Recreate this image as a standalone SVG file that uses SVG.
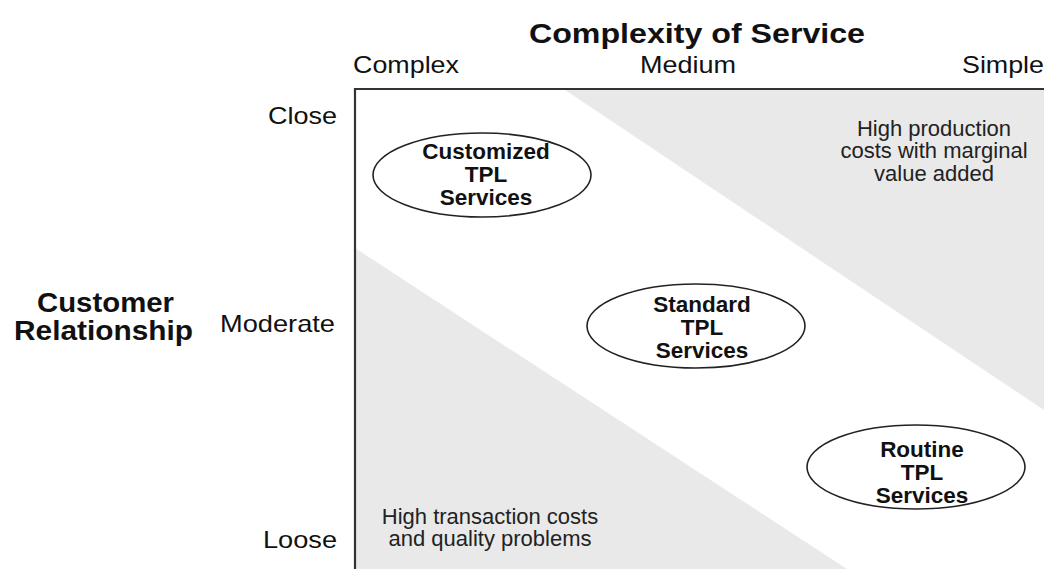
<svg xmlns="http://www.w3.org/2000/svg" width="1044" height="569" viewBox="0 0 1044 569">
<style>
.lbl{font-family:"Liberation Sans",Arial,sans-serif;font-size:24px;fill:#111}
.ttl{font-family:"Liberation Sans",Arial,sans-serif;font-size:27px;font-weight:bold;fill:#111}
.nd{font-family:"Liberation Sans",Arial,sans-serif;font-size:22.5px;font-weight:bold;fill:#111;text-anchor:middle}
.note{font-family:"Liberation Sans",Arial,sans-serif;font-size:22px;fill:#222;text-anchor:middle}
.ell{fill:#fff;stroke:#222;stroke-width:1.6}
.zone{fill:#e9e9e9}
</style>
<rect width="1044" height="569" fill="#fff"/>
<g id="zones">
<polygon class="zone" points="565,90 1044,90 1044,410"/>
<polygon class="zone" points="355,248 847,569 355,569"/>
</g>
<g id="frame">
<path d="M355,569 V89 H1044" fill="none" stroke="#333" stroke-width="2.2"/>
</g>
<g id="axis-labels">
<text class="ttl" x="697" y="43" text-anchor="middle" textLength="336" lengthAdjust="spacingAndGlyphs">Complexity of Service</text>
<text class="lbl" x="353" y="73" textLength="106" lengthAdjust="spacingAndGlyphs">Complex</text>
<text class="lbl" x="640" y="73" textLength="96" lengthAdjust="spacingAndGlyphs">Medium</text>
<text class="lbl" x="962" y="73" textLength="82" lengthAdjust="spacingAndGlyphs">Simple</text>
<text class="lbl" x="268" y="124" textLength="69" lengthAdjust="spacingAndGlyphs">Close</text>
<text class="lbl" x="220" y="332" textLength="115" lengthAdjust="spacingAndGlyphs">Moderate</text>
<text class="lbl" x="263" y="548" textLength="74" lengthAdjust="spacingAndGlyphs">Loose</text>
<text class="ttl" x="37" y="312" textLength="137" lengthAdjust="spacingAndGlyphs">Customer</text>
<text class="ttl" x="14" y="340" textLength="179" lengthAdjust="spacingAndGlyphs">Relationship</text>
</g>
<g id="notes">
<text class="note" x="934" y="136">High production</text>
<text class="note" x="934" y="158">costs with marginal</text>
<text class="note" x="934" y="181">value added</text>
<text class="note" x="490" y="524">High transaction costs</text>
<text class="note" x="490" y="546">and quality problems</text>
</g>
<g id="connectors"></g>
<g id="node-customized">
<ellipse class="ell" cx="482" cy="175" rx="109" ry="42"/>
<text class="nd" x="486" y="159">Customized</text>
<text class="nd" x="486" y="182">TPL</text>
<text class="nd" x="486" y="205">Services</text>
</g>
<g id="node-standard">
<ellipse class="ell" cx="696" cy="326" rx="109" ry="42"/>
<text class="nd" x="702" y="312">Standard</text>
<text class="nd" x="702" y="335">TPL</text>
<text class="nd" x="702" y="358">Services</text>
</g>
<g id="node-routine">
<ellipse class="ell" cx="916" cy="467" rx="109" ry="42"/>
<text class="nd" x="922" y="457">Routine</text>
<text class="nd" x="922" y="480">TPL</text>
<text class="nd" x="922" y="503">Services</text>
</g>
</svg>
